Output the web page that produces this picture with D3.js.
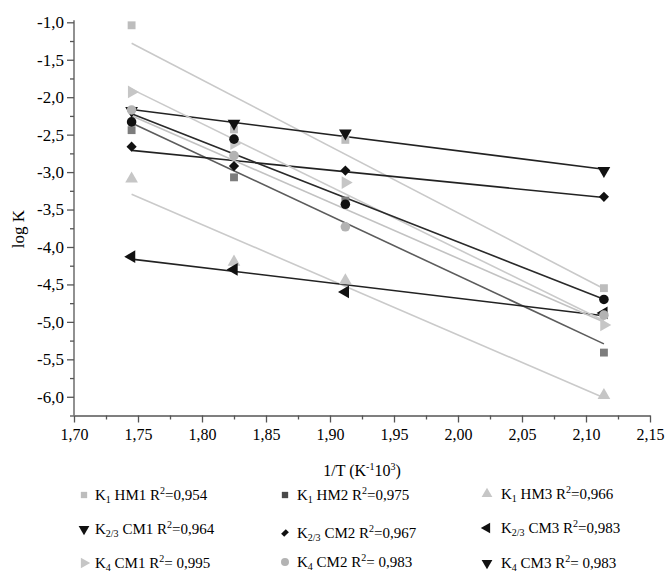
<!DOCTYPE html>
<html>
<head>
<meta charset="utf-8">
<script src="https://d3js.org/d3.v7.min.js"></script>
<style>
  body { margin: 0; background: #fff; }
  text { font-family: "Liberation Serif", "Times New Roman", serif; fill: #000; }
</style>
</head>
<body>
<svg id="chart" width="665" height="573"></svg>
<script>
// 1/T values (K^-1 10^3)
var invT = [1.745, 1.825, 1.912, 2.114];

// log K per series
var k1HM1 = [-1.04, -2.43, -2.57, -4.55];
var k1HM2 = [-2.44, -3.07, -3.38, -5.41];
var k1HM3 = [-3.09, -4.20, -4.45, -5.98];
var k23CM1 = [-2.18, -2.35, -2.48, -2.98];
var k23CM2 = [-2.66, -2.92, -2.98, -3.33];
var k23CM3 = [-4.13, -4.30, -4.60, -4.88];
var k4CM1 = [-1.93, -2.62, -3.14, -5.04];
var k4CM2 = [-2.17, -2.78, -3.73, -4.91];
var k4CM3 = [-2.33, -2.56, -3.43, -4.70];

var xTicks = [1.70, 1.75, 1.80, 1.85, 1.90, 1.95, 2.00, 2.05, 2.10, 2.15];
var yTicks = [-1.0, -1.5, -2.0, -2.5, -3.0, -3.5, -4.0, -4.5, -5.0, -5.5, -6.0];

var series = [
  { k: '1',   name: 'HM1', r2: '=0,954',  values: k1HM1,  shape: 'square',  fill: '#bdbdbd', line: '#c9c9c9' },
  { k: '1',   name: 'HM2', r2: '=0,975',  values: k1HM2,  shape: 'square',  fill: '#7d7d7d', line: '#5c5c5c', legendFill: '#4a4a4a' },
  { k: '1',   name: 'HM3', r2: '=0,966',  values: k1HM3,  shape: 'up',      fill: '#c6c6c6', line: '#cacaca' },
  { k: '2/3', name: 'CM1', r2: '=0,964',  values: k23CM1, shape: 'down',    fill: '#111',    line: '#222' },
  { k: '2/3', name: 'CM2', r2: '=0,967',  values: k23CM2, shape: 'diamond', fill: '#111',    line: '#222' },
  { k: '2/3', name: 'CM3', r2: '=0,983',  values: k23CM3, shape: 'left',    fill: '#111',    line: '#222' },
  { k: '4',   name: 'CM1', r2: '= 0,995', values: k4CM1,  shape: 'right',   fill: '#c6c6c6', line: '#cacaca' },
  { k: '4',   name: 'CM2', r2: '= 0,983', values: k4CM2,  shape: 'circle',  fill: '#b3b3b3', line: '#c2c2c2' },
  { k: '4',   name: 'CM3', r2: '= 0,983', values: k4CM3,  shape: 'circle',  fill: '#111',    line: '#2a2a2a', legendShape: 'down' }
];

var svg = d3.select('#chart');
var plotLeft = 74, plotRight = 650, plotTop = 22.3, plotBottom = 415.5;

var x = d3.scaleLinear().domain([1.70, 2.15]).range([plotLeft, plotRight]);
var y = d3.scaleLinear().domain([-6.25, -1.0]).range([plotBottom, plotTop]);

var fmt = function (v, n) { return v.toFixed(n).replace('.', ','); };

// axes
var axisColor = '#555';
var yMinor = d3.range(-6.25, -0.99, 0.25).filter(function (v) { return Math.abs(v * 2 - Math.round(v * 2)) > 0.01; });
var xMinor = d3.range(1.725, 2.15, 0.05);

var gy = svg.append('g').attr('transform', 'translate(' + plotLeft + ',0)');
gy.call(d3.axisLeft(y).tickValues(yTicks).tickSize(7).tickSizeOuter(0).tickPadding(3)
  .tickFormat(function (d) { return fmt(d, 1); }));
gy.append('g').call(d3.axisLeft(y).tickValues(yMinor).tickSize(4).tickFormat(''))
  .select('.domain').remove();

var gx = svg.append('g').attr('transform', 'translate(0,' + plotBottom + ')');
gx.call(d3.axisBottom(x).tickValues(xTicks).tickSize(7).tickSizeOuter(0).tickPadding(6)
  .tickFormat(function (d) { return fmt(d, 2); }));
gx.append('g').call(d3.axisBottom(x).tickValues(xMinor).tickSize(4).tickFormat(''))
  .select('.domain').remove();

svg.selectAll('.domain, .tick line').attr('stroke', axisColor).attr('stroke-width', 1.3);
svg.selectAll('.tick text').attr('font-size', 16).attr('font-family', '"Liberation Serif", serif').attr('fill', '#000');
gy.selectAll('.tick text').attr('font-size', 17);
gy.select('.domain').attr('d', 'M0,' + (plotTop - 2) + 'V' + plotBottom);

// axis titles
svg.append('text')
  .attr('transform', 'translate(24,229) rotate(-90)')
  .attr('text-anchor', 'middle')
  .attr('font-size', 17)
  .text('log K');

var xt = svg.append('text')
  .attr('x', (plotLeft + plotRight) / 2)
  .attr('y', 476)
  .attr('text-anchor', 'middle')
  .attr('font-size', 16);
xt.append('tspan').text('1/T (K');
xt.append('tspan').attr('dy', -6).attr('font-size', 10).text('-1');
xt.append('tspan').attr('dy', 6).text('10');
xt.append('tspan').attr('dy', -6).attr('font-size', 10).text('3');
xt.append('tspan').attr('dy', 6).text(')');

// symbols
function symbolPath(shape, size) {
  var type = d3.symbolSquare;
  if (shape === 'circle') type = d3.symbolCircle;
  else if (shape === 'up' || shape === 'down' || shape === 'left' || shape === 'right') type = d3.symbolTriangle;
  return d3.symbol().type(type).size(size)();
}
function rotation(shape) {
  return { down: 180, left: -90, right: 90, diamond: 45 }[shape] || 0;
}
function symbolSize(shape) {
  if (shape === 'square') return 62;
  if (shape === 'circle') return 72;
  if (shape === 'diamond') return 52;
  return 70;
}

// least-squares fit lines
function fit(xs, ys) {
  var mx = d3.mean(xs), my = d3.mean(ys);
  var sxy = d3.sum(xs, function (v, i) { return (v - mx) * (ys[i] - my); });
  var sxx = d3.sum(xs, function (v) { return (v - mx) * (v - mx); });
  var b = sxy / sxx;
  return function (t) { return my + b * (t - mx); };
}

var xEnds = [invT[0], invT[invT.length - 1]];
var line = d3.line().x(function (d) { return x(d[0]); }).y(function (d) { return y(d[1]); });

series.forEach(function (s) {
  var f = fit(invT, s.values);
  svg.append('path')
    .attr('d', line(xEnds.map(function (t) { return [t, f(t)]; })))
    .attr('fill', 'none')
    .attr('stroke', s.line)
    .attr('stroke-width', 1.6);
});

series.forEach(function (s) {
  svg.append('g').selectAll('path')
    .data(s.values)
    .join('path')
    .attr('d', symbolPath(s.shape, symbolSize(s.shape)))
    .attr('transform', function (d, i) {
      return 'translate(' + x(invT[i]) + ',' + y(d) + ') rotate(' + rotation(s.shape) + ')';
    })
    .attr('fill', s.fill);
});

// legend (3 columns x 3 rows)
var colMark = [84, 285, 487];
var colText = [95, 297, 501];
var rowBase = [[500, 534, 568], [500, 538, 567], [499, 533, 568]];

series.forEach(function (s, i) {
  var col = i % 3, row = Math.floor(i / 3);
  var by = rowBase[col][row];
  var shape = s.legendShape || s.shape;
  svg.append('path')
    .attr('d', symbolPath(shape, shape === 'square' ? 40 : shape === 'diamond' ? 30 : 50))
    .attr('transform', 'translate(' + colMark[col] + ',' + (by - 5) + ') rotate(' + rotation(shape) + ')' +
      (shape === 'diamond' ? ' scale(0.8,1.2)' : ''))
    .attr('fill', s.legendFill || s.fill);
  var t = svg.append('text').attr('x', colText[col]).attr('y', by).attr('font-size', 15);
  t.append('tspan').text('K');
  t.append('tspan').attr('dy', 3).attr('font-size', 10).text(s.k);
  t.append('tspan').attr('dy', -3).text(' ' + s.name + ' R');
  t.append('tspan').attr('dy', -6).attr('font-size', 10).text('2');
  t.append('tspan').attr('dy', 6).text(s.r2);
});
</script>
</body>
</html>
